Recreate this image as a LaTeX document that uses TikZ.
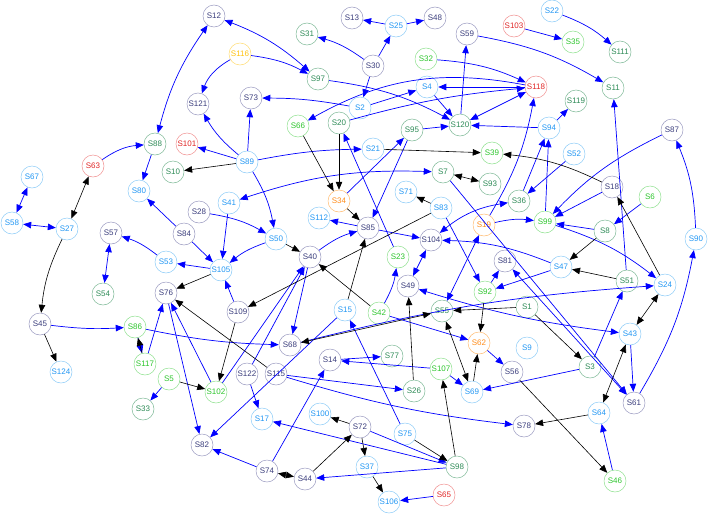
\documentclass[tikz,border=0pt]{standalone}
\usepackage{fontspec}
\setmainfont{Liberation Sans}
\usetikzlibrary{arrows.meta}
\definecolor{nvT}{HTML}{3A3D7C}\definecolor{nvC}{HTML}{9A9AC0}
\definecolor{dgT}{HTML}{2E8B57}\definecolor{dgC}{HTML}{7DB896}
\definecolor{lgT}{HTML}{2CC52C}\definecolor{lgC}{HTML}{8EE08E}
\definecolor{lbT}{HTML}{2196F3}\definecolor{lbC}{HTML}{8CCBF7}
\definecolor{rdT}{HTML}{E02626}\definecolor{rdC}{HTML}{F09090}
\definecolor{ogT}{HTML}{FF8C1A}\definecolor{ogC}{HTML}{FFBB70}
\definecolor{yeT}{HTML}{FFC20E}\definecolor{yeC}{HTML}{FFDB70}
\begin{document}
\begin{tikzpicture}[x=1pt,y=-1pt,>={Triangle[length=8pt,width=6.5pt]},
  every node/.style={circle,draw,inner sep=0pt,minimum size=22pt,line width=0.5pt,
    font=\fontsize{8}{9}\selectfont},
  nv/.style={draw=nvC,text=nvT}, dg/.style={draw=dgC,text=dgT},
  lg/.style={draw=lgC,text=lgT}, lb/.style={draw=lbC,text=lbT},
  rd/.style={draw=rdC,text=rdT}, og/.style={draw=ogC,text=ogT},
  ye/.style={draw=yeC,text=yeT},
  bl/.style={->,blue,line width=0.7pt}, bk/.style={->,black,line width=0.6pt}]
\useasboundingbox (0,0) rectangle (708,514);
% noeuds
\node[nv] (s12) at (214,16) {S12};
\node[nv] (s121) at (198,104) {S121};
\node[nv] (s73) at (251,98) {S73};
\node[nv] (s30) at (373,66) {S30};
\node[nv] (s13) at (352,18) {S13};
\node[nv] (s48) at (435,18) {S48};
\node[nv] (s59) at (467,34) {S59};
\node[nv] (s87) at (672,130) {S87};
\node[nv] (s18) at (612,187) {S18};
\node[nv] (s57) at (111,233) {S57};
\node[nv] (s28) at (199,212) {S28};
\node[nv] (s84) at (184,234) {S84};
\node[nv] (s40) at (310,257) {S40};
\node[nv] (s85) at (368,228) {S85};
\node[nv] (s104) at (431,240) {S104};
\node[nv] (s49) at (408,286) {S49};
\node[nv] (s81) at (505,261) {S81};
\node[nv] (s76) at (166,293) {S76};
\node[nv] (s45) at (40,324) {S45};
\node[nv] (s109) at (238,312) {S109};
\node[nv] (s122) at (247,374) {S122};
\node[nv] (s115) at (276,374) {S115};
\node[nv] (s14) at (330,360) {S14};
\node[nv] (s68) at (290,345) {S68};
\node[nv] (s82) at (202,445) {S82};
\node[nv] (s74) at (267,471) {S74};
\node[nv] (s44) at (305,479) {S44};
\node[nv] (s72) at (360,427) {S72};
\node[nv] (s56) at (512,372) {S56};
\node[nv] (s78) at (524,426) {S78};
\node[nv] (s61) at (634,403) {S61};
\node[dg] (s31) at (307,34) {S31};
\node[dg] (s97) at (318,79) {S97};
\node[dg] (s20) at (339,123) {S20};
\node[dg] (s88) at (155,144) {S88};
\node[dg] (s10) at (173,172) {S10};
\node[dg] (s120) at (460,125) {S120};
\node[dg] (s95) at (412,130) {S95};
\node[dg] (s7) at (443,172) {S7};
\node[dg] (s93) at (490,184) {S93};
\node[dg] (s36) at (519,201) {S36};
\node[dg] (s8) at (605,231) {S8};
\node[dg] (s51) at (627,281) {S51};
\node[dg] (s54) at (103,294) {S54};
\node[dg] (s26) at (414,391) {S26};
\node[dg] (s77) at (392,356) {S77};
\node[dg] (s98) at (457,467) {S98};
\node[dg] (s3) at (590,367) {S3};
\node[dg] (s1) at (527,307) {S1};
\node[dg] (s111) at (620,52) {S111};
\node[dg] (s11) at (613,88) {S11};
\node[dg] (s119) at (576,101) {S119};
\node[dg] (s33) at (143,409) {S33};
\node[dg] (s55) at (442,311) {S55};
\node[lg] (s66) at (298,126) {S66};
\node[lg] (s32) at (426,59) {S32};
\node[lg] (s39) at (492,153) {S39};
\node[lg] (s35) at (573,42) {S35};
\node[lg] (s99) at (545,222) {S99};
\node[lg] (s6) at (650,197) {S6};
\node[lg] (s23) at (398,257) {S23};
\node[lg] (s42) at (379,313) {S42};
\node[lg] (s92) at (485,292) {S92};
\node[lg] (s86) at (135,327) {S86};
\node[lg] (s117) at (145,364) {S117};
\node[lg] (s5) at (169,379) {S5};
\node[lg] (s102) at (216,392) {S102};
\node[lg] (s107) at (441,369) {S107};
\node[lg] (s46) at (615,481) {S46};
\node[lb] (s25) at (396,26) {S25};
\node[lb] (s4) at (427,87) {S4};
\node[lb] (s2) at (360,108) {S2};
\node[lb] (s21) at (373,149) {S21};
\node[lb] (s94) at (549,128) {S94};
\node[lb] (s52) at (574,154) {S52};
\node[lb] (s22) at (552,11) {S22};
\node[lb] (s67) at (32,177) {S67};
\node[lb] (s58) at (12,223) {S58};
\node[lb] (s27) at (67,229) {S27};
\node[lb] (s80) at (139,191) {S80};
\node[lb] (s41) at (229,203) {S41};
\node[lb] (s50) at (276,239) {S50};
\node[lb] (s53) at (166,262) {S53};
\node[lb] (s105) at (221,270) {S105};
\node[lb] (s112) at (319,218) {S112};
\node[lb] (s71) at (406,192) {S71};
\node[lb] (s83) at (441,208) {S83};
\node[lb] (s47) at (561,267) {S47};
\node[lb] (s24) at (665,285) {S24};
\node[lb] (s90) at (696,239) {S90};
\node[lb] (s43) at (630,334) {S43};
\node[lb] (s15) at (345,310) {S15};
\node[lb] (s9) at (527,348) {S9};
\node[lb] (s69) at (472,392) {S69};
\node[lb] (s64) at (599,413) {S64};
\node[lb] (s17) at (262,419) {S17};
\node[lb] (s100) at (320,414) {S100};
\node[lb] (s75) at (405,434) {S75};
\node[lb] (s37) at (367,467) {S37};
\node[lb] (s106) at (389,502) {S106};
\node[lb] (s124) at (61,372) {S124};
\node[lb] (s89) at (247,162) {S89};
\node[rd] (s63) at (93,166) {S63};
\node[rd] (s101) at (187,144) {S101};
\node[rd] (s118) at (536,87) {S118};
\node[rd] (s103) at (514,26) {S103};
\node[rd] (s65) at (444,495) {S65};
\node[og] (s34) at (339,201) {S34};
\node[og] (s19) at (484,225) {S19};
\node[og] (s62) at (479,343) {S62};
\node[ye] (s116) at (240,54) {S116};
% arcs bleus
\draw[bl,<->] (s12) to[bend right=10] (s88);
\draw[bl] (s63) to[bend left=15] (s88);
\draw[bl] (s88) -- (s80);
\draw[bl,<->] (s12) to[bend left=10] (s97);
\draw[bl] (s116) to[bend left=10] (s97);
\draw[bl] (s116) to[bend right=20] (s121);
\draw[bl] (s89) to[bend left=10] (s121);
\draw[bl] (s89) -- (s73);
\draw[bl] (s89) -- (s101);
\draw[bl] (s2) to[bend right=5] (s73);
\draw[bl] (s30) to[bend right=10] (s31);
\draw[bl] (s97) to[bend left=10] (s120);
\draw[bl] (s118) to[bend right=20] (s66);
\draw[bl] (s23) -- (s20);
\draw[bl] (s20) to[bend left=5] (s118);
\draw[bl] (s25) -- (s13);
\draw[bl] (s25) -- (s48);
\draw[bl] (s30) -- (s25);
\draw[bl] (s30) -- (s2);
\draw[bl] (s2) -- (s4);
\draw[bl] (s4) -- (s120);
\draw[bl] (s118) -- (s4);
\draw[bl,<->] (s118) -- (s120);
\draw[bl] (s32) to[bend left=10] (s118);
\draw[bl] (s94) -- (s120);
\draw[bl] (s95) -- (s120);
\draw[bl] (s120) -- (s59);
\draw[bl] (s59) to[bend left=10] (s11);
\draw[bl] (s103) -- (s35);
\draw[bl] (s22) to[bend left=10] (s111);
\draw[bl] (s89) to[bend left=5] (s21);
\draw[bl] (s89) to[bend left=10] (s50);
\draw[bl,<->] (s67) -- (s58);
\draw[bl,<->] (s58) -- (s27);
\draw[bl] (s53) to[bend right=10] (s57);
\draw[bl,<->] (s57) -- (s54);
\draw[bl] (s45) to[bend right=5] (s86);
\draw[bl] (s84) -- (s80);
\draw[bl] (s86) to[bend right=5] (s68);
\draw[bl] (s86) -- (s117);
\draw[bl] (s41) -- (s105);
\draw[bl] (s28) to[bend left=10] (s50);
\draw[bl] (s84) -- (s105);
\draw[bl] (s50) to[bend right=10] (s105);
\draw[bl] (s105) -- (s53);
\draw[bl] (s109) -- (s105);
\draw[bl] (s40) to[bend left=10] (s85);
\draw[bl] (s85) -- (s112);
\draw[bl] (s85) -- (s104);
\draw[bl] (s34) -- (s95);
\draw[bl,<->] (s41) to[bend left=10] (s7);
\draw[bl] (s83) -- (s92);
\draw[bl,<->] (s104) -- (s49);
\draw[bl] (s42) to[bend right=10] (s23);
\draw[bl,<->] (s19) -- (s55);
\draw[bl,<->] (s104) to[bend left=15] (s36);
\draw[bl] (s19) to[bend left=10] (s99);
\draw[bl] (s47) to[bend right=10] (s104);
\draw[bl] (s7) -- (s61);
\draw[bl] (s92) -- (s81);
\draw[bl] (s47) -- (s92);
\draw[bl,<->] (s49) to[bend right=5] (s43);
\draw[bl] (s95) -- (s85);
\draw[bl] (s99) -- (s94);
\draw[bl] (s36) -- (s94);
\draw[bl] (s19) to[bend right=10] (s118);
\draw[bl] (s94) -- (s119);
\draw[bl] (s52) -- (s36);
\draw[bl] (s87) to[bend right=10] (s99);
\draw[bl] (s51) -- (s11);
\draw[bl] (s90) to[bend right=10] (s87);
\draw[bl] (s61) to[bend right=10] (s90);
\draw[bl] (s6) -- (s8);
\draw[bl] (s8) -- (s99);
\draw[bl] (s18) -- (s99);
\draw[bl] (s99) to[bend left=10] (s24);
\draw[bl] (s68) to[bend left=5] (s24);
\draw[bl] (s3) -- (s69);
\draw[bl] (s46) -- (s64);
\draw[bl] (s43) -- (s61);
\draw[bl,<->] (s81) -- (s61);
\draw[bl] (s3) -- (s51);
\draw[bl] (s14) -- (s77);
\draw[bl] (s107) -- (s14);
\draw[bl] (s115) -- (s26);
\draw[bl] (s115) to[bend right=5] (s78);
\draw[bl] (s72) -- (s98);
\draw[bl] (s98) -- (s17);
\draw[bl] (s98) -- (s44);
\draw[bl] (s107) -- (s69);
\draw[bl] (s62) -- (s56);
\draw[bl] (s75) -- (s15);
\draw[bl] (s15) -- (s82);
\draw[bl] (s102) -- (s40);
\draw[bl] (s122) -- (s40);
\draw[bl] (s65) -- (s106);
\draw[bl] (s74) -- (s82);
\draw[bl] (s122) -- (s17);
\draw[bl] (s74) -- (s14);
\draw[bl] (s40) -- (s68);
\draw[bl] (s76) -- (s82);
\draw[bl] (s117) -- (s76);
\draw[bl] (s102) -- (s76);
\draw[bl] (s42) -- (s62);
\draw[bl] (s5) -- (s33);
% arcs noirs
\draw[bk] (s89) -- (s10);
\draw[bk] (s20) -- (s34);
\draw[bk] (s66) -- (s34);
\draw[bk,<->] (s63) -- (s27);
\draw[bk] (s27) to[bend right=10] (s45);
\draw[bk] (s45) -- (s124);
\draw[bk] (s117) -- (s86);
\draw[bk] (s105) -- (s76);
\draw[bk] (s115) -- (s76);
\draw[bk] (s50) -- (s40);
\draw[bk] (s83) -- (s71);
\draw[bk,<->] (s7) -- (s93);
\draw[bk] (s21) -- (s39);
\draw[bk] (s18) to[bend right=10] (s39);
\draw[bk] (s1) -- (s55);
\draw[bk] (s26) -- (s49);
\draw[bk] (s83) -- (s109);
\draw[bk,<->] (s68) -- (s55);
\draw[bk] (s42) -- (s40);
\draw[bk] (s15) -- (s85);
\draw[bk] (s56) -- (s46);
\draw[bk] (s64) -- (s78);
\draw[bk,<->] (s43) -- (s64);
\draw[bk] (s1) -- (s3);
\draw[bk] (s8) -- (s47);
\draw[bk] (s51) -- (s47);
\draw[bk] (s24) -- (s18);
\draw[bk,<->] (s24) -- (s43);
\draw[bk] (s75) -- (s98);
\draw[bk] (s98) -- (s107);
\draw[bk] (s69) -- (s62);
\draw[bk,<->] (s55) -- (s69);
\draw[bk] (s72) -- (s100);
\draw[bk] (s72) -- (s37);
\draw[bk] (s37) -- (s106);
\draw[bk] (s44) -- (s72);
\draw[bk,<->] (s74) -- (s44);
\draw[bk] (s109) -- (s102);
\draw[bk] (s5) -- (s102);
\draw[bk] (s92) -- (s62);
\draw[bk] (s34) -- (s85);
\end{tikzpicture}
\end{document}
